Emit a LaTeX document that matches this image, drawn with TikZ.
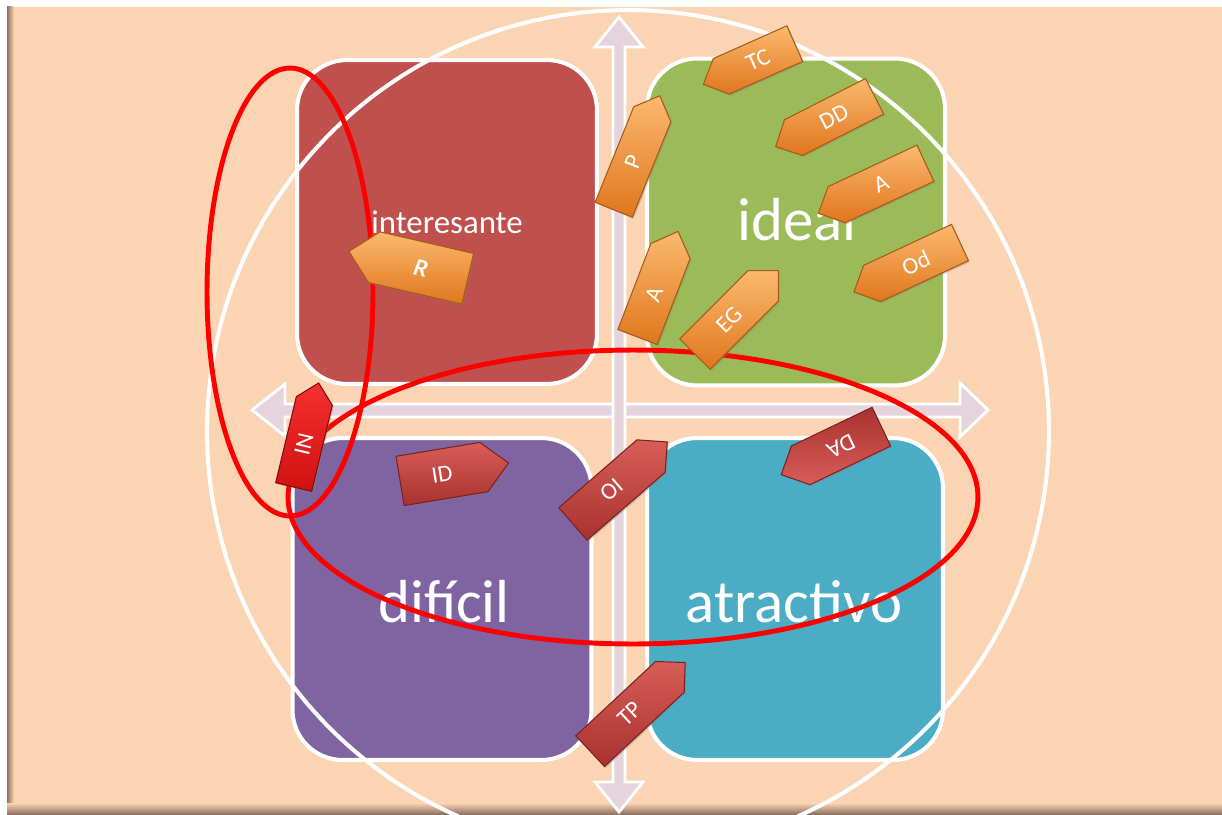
\documentclass[tikz,border=0pt]{standalone}
\usepackage{fontspec}
\setmainfont{Carlito}
\usetikzlibrary{shapes.symbols,shadows}
\definecolor{peach}{HTML}{FBD4B4}
\definecolor{framebrown}{HTML}{8E7262}
\definecolor{qred}{HTML}{C0504D}
\definecolor{qgreen}{HTML}{9BBB59}
\definecolor{qpurple}{HTML}{8064A2}
\definecolor{qteal}{HTML}{4BACC6}
\definecolor{axisfill}{HTML}{E6D4DC}
\definecolor{orL}{HTML}{FBB96E}
\definecolor{orD}{HTML}{E0761C}
\definecolor{orE}{HTML}{A85A18}
\definecolor{drL}{HTML}{D85D57}
\definecolor{drD}{HTML}{A8322E}
\definecolor{drE}{HTML}{7A2220}
\definecolor{brL}{HTML}{F53030}
\definecolor{brD}{HTML}{D01010}
\definecolor{brE}{HTML}{8A0808}
\tikzset{
  quad/.style={rectangle, rounded corners=1cm, draw=white, line width=2.3pt, inner sep=0pt},
  qtext/.style={text=white, anchor=base, inner sep=0pt, font=\fontsize{34.6}{40}\selectfont},
  axisarrow/.style={fill=axisfill, draw=white, line width=1.6pt, line join=miter},
  ring/.style={draw=white, line width=2.3pt},
  redring/.style={draw=red, line width=2.8pt},
  penta/.style={signal, signal pointer angle=90, inner sep=0pt, line width=0.6pt,
    text=white, font=\fontsize{13.5}{15}\selectfont,
    drop shadow={opacity=0.35, shadow xshift=0.8pt, shadow yshift=-0.8pt}},
  orng/.style={penta, top color=orL, bottom color=orD, draw=orE},
  dred/.style={penta, top color=drL, bottom color=drD, draw=drE},
  dredflip/.style={penta, top color=drD, bottom color=drL, draw=drE},
  bred/.style={penta, top color=brL, bottom color=brD, draw=brE}
}
\begin{document}
\begin{tikzpicture}[x=0.02cm,y=-0.02cm]
\useasboundingbox (0,0) rectangle (1222,814);
% frame
\fill[white] (0,0) rectangle (1222,814);
\fill[peach] (7,7) rectangle (1222,814);
\shade[left color=framebrown, right color=peach] (7,7) rectangle (14,814);
\shade[top color=peach, bottom color=framebrown] (7,803) rectangle (1222,814);
% quadrant boxes
\node[quad, fill=qred, minimum width=6.0cm, minimum height=6.48cm] (qint) at (447,222) {};
\node[quad, fill=qgreen, minimum width=5.96cm, minimum height=6.54cm] (qide) at (796,222) {};
\node[quad, fill=qpurple, minimum width=5.98cm, minimum height=6.44cm] (qdif) at (442,599) {};
\node[quad, fill=qteal, minimum width=5.92cm, minimum height=6.44cm] (qatr) at (795,599) {};
% quadrant texts
\node[qtext, font=\fontsize{18.7}{22}\selectfont] (tint) at (447,233) {interesante};
\node[qtext] (tide) at (797,240) {ideal};
\node[qtext] (tdif) at (444,622) {difícil};
\node[qtext] (tatr) at (794,622) {atractivo};
% big circle
\draw[ring] (628,431) circle [radius=8.42cm];
% axes
\draw[axisarrow] (252,410) -- (285,384) -- (285,404) -- (960,404) -- (960,383) -- (988,410)
  -- (960,437) -- (960,417) -- (285,417) -- (285,436) -- cycle;
\draw[axisarrow] (619,17) -- (643,47) -- (625,47) -- (625,782) -- (643,782) -- (619,812)
  -- (595,782) -- (613,782) -- (613,47) -- (595,47) -- cycle;
% red ellipses (below the arrows)
\draw[redring] (290,292) ellipse [x radius=1.66cm, y radius=4.48cm];
\draw[redring] (633,497) ellipse [x radius=6.9cm, y radius=2.94cm];
% pentagon arrows
\node[orng, signal to=west, rotate=24, minimum width=2.0cm, minimum height=0.78cm] (aTC) at (758,60) {TC};
\node[orng, signal to=west, rotate=27, minimum width=2.22cm, minimum height=0.8cm] (aDD) at (834,117) {DD};
\node[orng, signal to=west, rotate=25, minimum width=2.36cm, minimum height=0.8cm] (aA1) at (881,184) {A};
\node[orng, signal to=west, rotate=25, minimum width=2.34cm, minimum height=0.8cm] (aOd) at (916,263) {Od};
\node[orng, signal to=east, rotate=68, minimum width=2.46cm, minimum height=0.8cm] (aP) at (633,162) {P};
\node[orng, signal to=east, rotate=69, minimum width=2.26cm, minimum height=0.84cm] (aA2) at (654,294) {A};
\node[orng, signal to=east, rotate=45, minimum width=2.36cm, minimum height=0.86cm] (aEG) at (729,320) {EG};
\node[orng, signal to=west, rotate=-13, minimum width=2.44cm, minimum height=1.04cm,
  font=\fontsize{14}{16}\selectfont\bfseries\itshape] (aR) at (421,268) {R};
\node[bred, signal to=east, rotate=76.5, minimum width=2.14cm, minimum height=0.74cm] (aIN) at (304,444) {IN};
\node[dred, signal to=east, rotate=9.4, minimum width=2.2cm, minimum height=1.0cm] (aID) at (442,474) {ID};
\node[dred, signal to=east, rotate=41, minimum width=2.5cm, minimum height=0.86cm] (aOI) at (612,490) {OI};
\node[dredflip, signal to=east, rotate=205.6, minimum width=2.22cm, minimum height=0.86cm] (aDA) at (841,446) {DA};
\node[dred, signal to=east, rotate=43, minimum width=2.6cm, minimum height=0.84cm] (aTP) at (630,714) {TP};
\end{tikzpicture}
\end{document}
